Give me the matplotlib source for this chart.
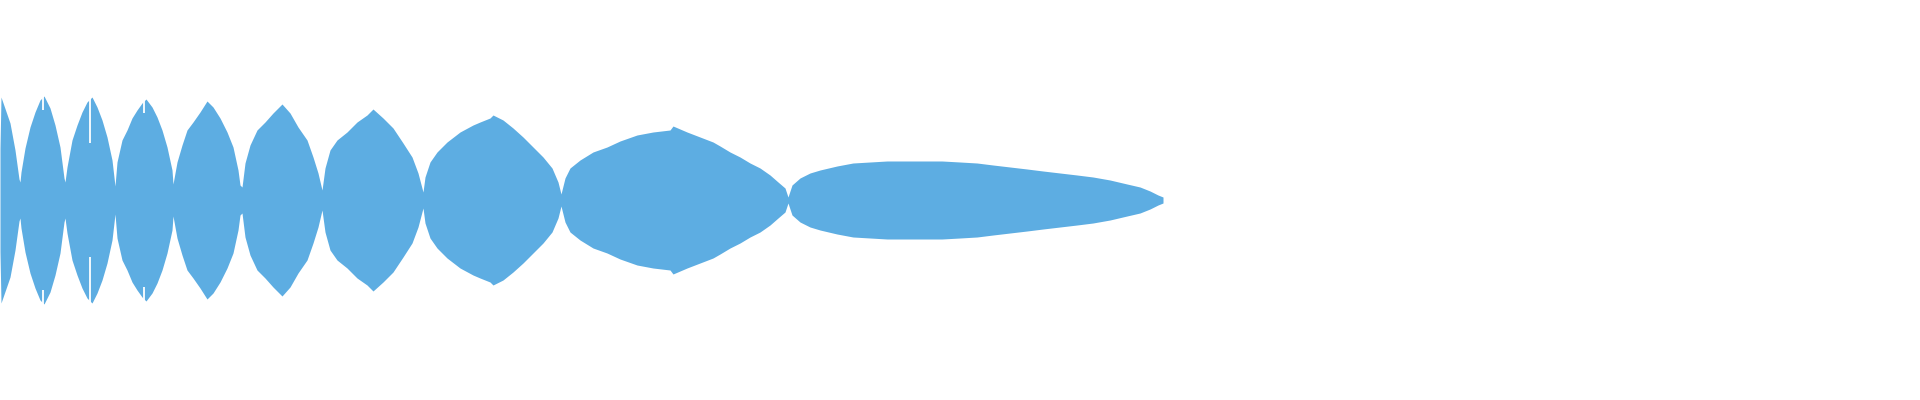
import numpy as np
import matplotlib
matplotlib.use('Agg')
import matplotlib.pyplot as plt

# upper envelope of the waveform band, mirrored below zero
env_x = [0, 1, 10, 15, 19, 20,
         21, 25, 30, 35, 40, 44, 50, 55, 60, 64, 65,
         67, 72, 77, 82, 87, 92, 97, 102, 107, 112, 115,
         117, 122, 127, 132, 137, 142, 146, 152, 157, 162, 167, 172, 173,
         177, 182, 187, 193, 200, 207, 213, 220, 227, 233, 238, 240,
         242, 245, 250, 257, 265, 273, 282, 290, 298, 307, 313, 318, 322,
         325, 330, 337, 347, 357, 367, 373, 383, 393, 403, 412, 418, 423,
         425, 430, 437, 447, 460, 473, 480, 490, 493, 503, 513, 523, 533, 543, 552, 558, 561,
         565, 570, 580, 593, 607, 620, 637, 653, 670, 673, 687, 700, 713, 720, 730, 740,
         750, 760, 770, 778, 785, 788,
         792, 800, 810, 820, 837, 853, 870, 887, 920, 942, 960, 977, 993, 1010, 1027,
         1043, 1060, 1077, 1093, 1110, 1127, 1140, 1150, 1158, 1163]
env_h = [52, 103, 77, 50, 21, 18,
         28, 52, 73, 88, 100, 104, 92, 75, 53, 22, 18,
         33, 60, 75, 88, 98, 103, 93, 80, 63, 40, 14,
         38, 60, 70, 82, 90, 97, 101, 93, 83, 70, 53, 30, 16,
         38, 55, 70, 78, 88, 99, 93, 82, 68, 53, 30, 15,
         13, 37, 55, 70, 78, 87, 96, 87, 73, 60, 43, 27, 10,
         32, 50, 60, 68, 78, 85, 91, 82, 72, 57, 43, 27, 8,
         23, 38, 48, 58, 68, 75, 78, 82, 85, 80, 72, 63, 53, 43, 32, 18, 6,
         22, 32, 40, 48, 53, 59, 65, 68, 70, 74, 68, 63, 58, 54, 48, 43,
         37, 32, 25, 18, 12, 3,
         15, 22, 27, 30, 34, 37, 38, 39, 39, 39, 38, 37, 35, 33, 31,
         29, 27, 25, 23, 20, 16, 13, 9, 5, 3]

# thin gaps in the band near the first peaks
gap_x = [43, 90, 144]
gap_lo = [90, 57, 87]
gap_hi = [104, 103, 101]

x = np.array(env_x)
h = np.array(env_h)

fig = plt.figure(figsize=(19.2, 4), dpi=100)
ax = fig.add_axes([0, 0, 1, 1])
ax.fill_between(x, -h, h, color='#5dade2', linewidth=0)
ax.vlines(gap_x, gap_lo, gap_hi, color='white', linewidth=1.3)
ax.vlines(gap_x, [-v for v in gap_hi], [-v for v in gap_lo], color='white', linewidth=1.3)
ax.set_xlim(0, 1920)
ax.set_ylim(-200, 200)
ax.axis('off')
fig.savefig('out.png', dpi=100, facecolor='white')
